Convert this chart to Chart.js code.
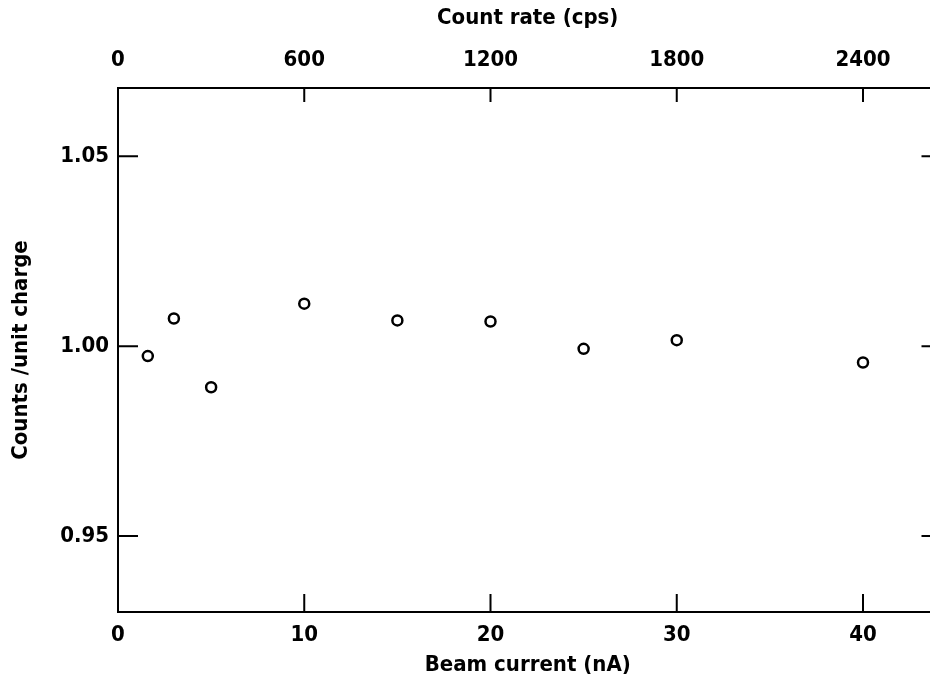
<!DOCTYPE html>
<html>
<head>
<meta charset="utf-8">
<script src="https://cdn.jsdelivr.net/npm/chart.js@4/dist/chart.umd.min.js"></script>
<style>
  html, body { margin: 0; padding: 0; background: #fff; overflow: hidden; }
  #wrap { width: 945px; height: 680px; }
</style>
</head>
<body>
<div id="wrap"><canvas id="c"></canvas></div>
<script>
// beam current (nA) and normalised counts per unit charge
const beamCurrent = [1.6, 3, 5, 10, 15, 20, 25, 30, 40];
const countsPerCharge = [0.9974, 1.0073, 0.9892, 1.0112, 1.0068, 1.0065, 0.9993, 1.0016, 0.9957];

const xTicks = [0, 10, 20, 30, 40];
const topTicks = [0, 600, 1200, 1800, 2400];
const yTicks = [0.95, 1.00, 1.05];

const FONT = '"DejaVu Sans Condensed", "Liberation Sans Narrow", sans-serif';
const tickFont = { family: FONT, size: 22, weight: 'bold' };
const titleFont = { family: FONT, size: 22, weight: 'bold' };

// tick marks drawn inward, the way the original plot has them
const inwardTicks = {
  id: 'inwardTicks',
  afterDatasetsDraw(chart) {
    const { ctx, chartArea: a, scales } = chart;
    ctx.save();
    ctx.strokeStyle = '#000';
    ctx.lineWidth = 2;
    ctx.beginPath();
    xTicks.forEach(v => {
      const px = scales.x.getPixelForValue(v);
      ctx.moveTo(px, a.bottom); ctx.lineTo(px, a.bottom - 18);
    });
    topTicks.forEach(v => {
      const px = scales.x2.getPixelForValue(v);
      ctx.moveTo(px, a.top); ctx.lineTo(px, a.top + 14);
    });
    yTicks.forEach(v => {
      const py = scales.y.getPixelForValue(v);
      ctx.moveTo(a.left, py); ctx.lineTo(a.left + 20, py);
      ctx.moveTo(a.right, py); ctx.lineTo(a.right - 16, py);
    });
    ctx.stroke();
    ctx.restore();
  }
};

new Chart(document.getElementById('c'), {
  type: 'scatter',
  data: {
    datasets: [{
      data: beamCurrent.map((x, i) => ({ x, y: countsPerCharge[i] })),
      pointStyle: 'circle',
      pointRadius: 5,
      pointBorderWidth: 2.5,
      pointBorderColor: '#000',
      pointBackgroundColor: '#fff',
      showLine: false
    }]
  },
  options: {
    responsive: true,
    maintainAspectRatio: false,
    animation: false,
    layout: { padding: 0 },
    plugins: { legend: { display: false }, tooltip: { enabled: false } },
    scales: {
      x: {
        type: 'linear', position: 'bottom', min: 0, max: 44,
        afterBuildTicks: s => { s.ticks = xTicks.map(value => ({ value })); },
        afterFit: s => { s.height = 68; },
        grid: { display: true, drawOnChartArea: false, drawTicks: false },
        border: { display: true, color: '#000', width: 2 },
        ticks: { color: '#000', font: tickFont, padding: 10, maxRotation: 0, callback: v => String(v) },
        title: { display: true, text: 'Beam current (nA)', color: '#000', font: titleFont, padding: { top: 0, bottom: 2 } }
      },
      x2: {
        type: 'linear', position: 'top', min: 0, max: 44 * 60,
        afterBuildTicks: s => { s.ticks = topTicks.map(value => ({ value })); },
        afterFit: s => { s.height = 88; },
        grid: { display: true, drawOnChartArea: false, drawTicks: false },
        border: { display: true, color: '#000', width: 2 },
        ticks: { color: '#000', font: tickFont, padding: 15, maxRotation: 0, callback: v => String(v) },
        title: { display: true, text: 'Count rate (cps)', color: '#000', font: titleFont, padding: { top: 5, bottom: 0 } }
      },
      y: {
        type: 'linear', position: 'left', min: 0.93, max: 1.068,
        afterBuildTicks: s => { s.ticks = yTicks.map(value => ({ value })); },
        afterFit: s => { s.width = 118; },
        grid: { display: true, drawOnChartArea: false, drawTicks: false },
        border: { display: true, color: '#000', width: 2 },
        ticks: { color: '#000', font: tickFont, padding: 9, callback: v => v.toFixed(2) },
        title: { display: true, text: 'Counts /unit charge', color: '#000', font: titleFont, padding: { top: 8, bottom: 0 } }
      },
      y2: {
        type: 'linear', position: 'right', min: 0.93, max: 1.068,
        afterFit: s => { s.width = 6; },
        grid: { display: true, drawOnChartArea: false, drawTicks: false },
        border: { display: true, color: '#000', width: 2 },
        ticks: { display: false }
      }
    }
  },
  plugins: [inwardTicks]
});
</script>
</body>
</html>
